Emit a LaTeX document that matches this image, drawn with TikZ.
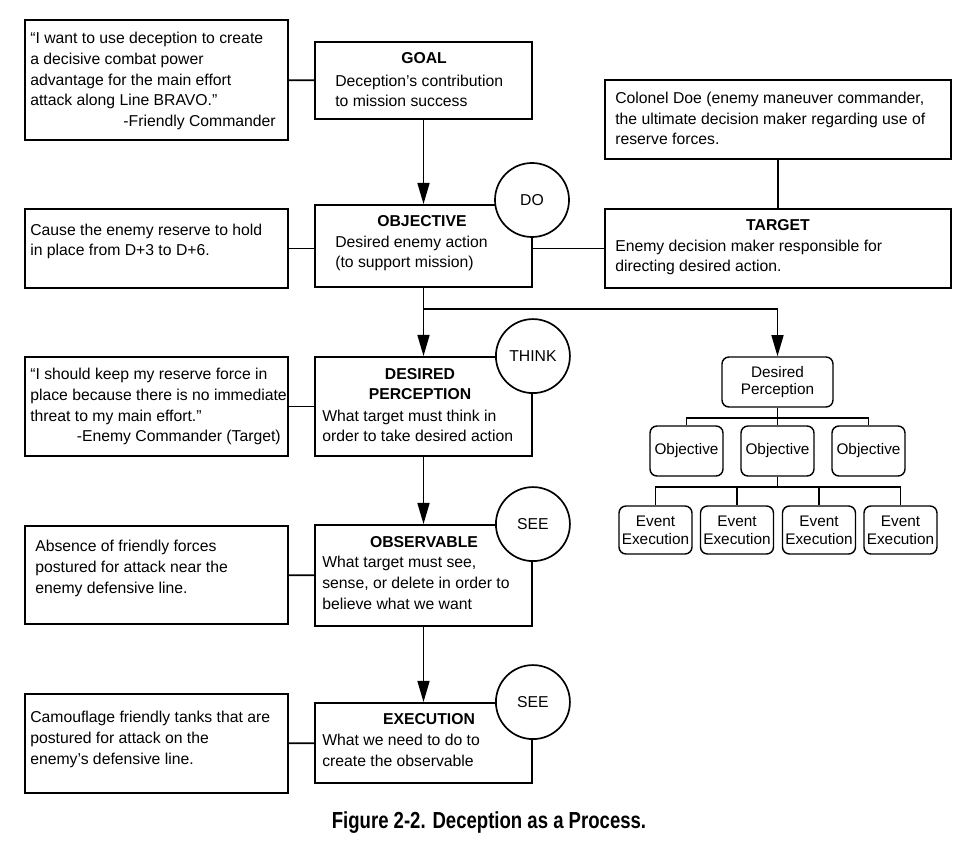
\documentclass[tikz,border=0pt]{standalone}
\usepackage{fontspec}
\setmainfont{Liberation Sans}
\usetikzlibrary{arrows.meta,positioning,fit,calc}

\begin{document}
\begin{tikzpicture}[x=0.025cm, y=-0.025cm,
  font=\fontsize{11.2}{14.9}\selectfont,
  box/.style={draw, line width=1.3pt, inner sep=0pt},
  rbox/.style={draw, line width=1pt, rounded corners=5pt, inner sep=0pt, align=center,
    font=\fontsize{10.9}{12.6}\selectfont},
  txt/.style={anchor=base west, inner sep=0pt, align=left},
  sig/.style={anchor=base east, inner sep=0pt},
  head/.style={anchor=base, inner sep=0pt, align=center, font=\fontsize{11.2}{14.9}\selectfont\bfseries},
  tag/.style={draw, circle, fill=white, line width=1.2pt, minimum size=1.85cm, inner sep=0pt},
  link/.style={line width=1.15pt},
  arr/.style={line width=1.15pt, -{Triangle[length=15pt,width=8.5pt]}}]
  \useasboundingbox (0,0) rectangle (975,846);

  % main column (text nodes sit on the baseline of their last line)
  \node[box, fit={(315,42) (532,119)}] (goal) {};
  \node[box, fit={(315,205) (532,287)}] (obj) {};
  \node[box, fit={(315,357) (532,456)}] (dp) {};
  \node[box, fit={(315,525) (532,626)}] (obs) {};
  \node[box, fit={(315,703) (532,783)}] (exec) {};

  \node[head] (goalh) at (424,64) {GOAL};
  \node[txt] (goalt) at (335,107) {Deception’s contribution\\to mission success};
  \node[head] (objh) at (422,227) {OBJECTIVE};
  \node[txt] (objt) at (335,268) {Desired enemy action\\(to support mission)};
  \node[head] (dph) at (420,400) {DESIRED\\PERCEPTION};
  \node[txt] (dpt) at (322,442) {What target must think in\\order to take desired action};
  \node[head] (obsh) at (424,547) {OBSERVABLE};
  \node[txt] (obst) at (322,609) {What target must see,\\sense, or delete in order to\\believe what we want};
  \node[head] (exech) at (429,724) {EXECUTION};
  \node[txt] (exect) at (322,766) {What we need to do to\\create the observable};

  % example boxes on the left
  \node[box, fit={(25,20) (288,140)}] (q1) {};
  \node[box, fit={(25,209) (288,288)}] (cause) {};
  \node[box, fit={(25,357) (288,456)}] (q2) {};
  \node[box, fit={(25,526) (288,624)}] (absence) {};
  \node[box, fit={(25,694) (288,793)}] (camo) {};

  \node[txt] (q1t) at (30,106) {“I want to use deception to create\\a decisive combat power\\advantage for the main effort\\attack along Line BRAVO.”};
  \node[sig] (q1s) at (276,127) {-Friendly Commander};
  \node[txt] (causet) at (30,256) {Cause the enemy reserve to hold\\in place from D+3 to D+6.};
  \node[txt] (q2t) at (30,421) {“I should keep my reserve force in\\place because there is no immediate\\threat to my main effort.”};
  \node[sig] (q2s) at (281,442) {-Enemy Commander (Target)};
  \node[txt] (absencet) at (35,593) {Absence of friendly forces\\postured for attack near the\\enemy defensive line.};
  \node[txt] (camot) at (30,764) {Camouflage friendly tanks that are\\postured for attack on the\\enemy’s defensive line.};

  % target side
  \node[box, fit={(605,80) (951,159)}] (doe) {};
  \node[box, fit={(605,209) (951,288)}] (target) {};
  \node[txt] (doet) at (615,145) {Colonel Doe (enemy maneuver commander,\\the ultimate decision maker regarding use of\\reserve forces.};
  \node[head] (targeth) at (778,231) {TARGET};
  \node[txt] (targett) at (615,272) {Enemy decision maker responsible for\\directing desired action.};

  % circles
  \node[tag] (do) at (532,200) {DO};
  \node[tag] (think) at (dp.north east) {THINK};
  \node[tag] (see1) at (obs.north east) {SEE};
  \node[tag] (see2) at (exec.north east) {SEE};

  % perception tree
  \node[rbox, minimum width=2.775cm, minimum height=1.25cm] (pdp) at (777.5,382) {Desired\\Perception};
  \node[rbox, minimum width=1.825cm, minimum height=1.25cm] (ob1) at (686.5,451) {Objective};
  \node[rbox, minimum width=1.825cm, minimum height=1.25cm] (ob2) at (777.5,451) {Objective};
  \node[rbox, minimum width=1.825cm, minimum height=1.25cm] (ob3) at (868.5,451) {Objective};
  \node[rbox, minimum width=1.825cm, minimum height=1.2cm] (ev1) at (655.5,530) {Event\\Execution};
  \node[rbox, minimum width=1.825cm, minimum height=1.2cm] (ev2) at (737,530) {Event\\Execution};
  \node[rbox, minimum width=1.825cm, minimum height=1.2cm] (ev3) at (819,530) {Event\\Execution};
  \node[rbox, minimum width=1.825cm, minimum height=1.2cm] (ev4) at (900.5,530) {Event\\Execution};

  % connectors
  \draw[link] (q1) -- (goal);
  \draw[link] (cause.east) -- (cause.east -| obj.west);
  \draw[link] (q2) -- (dp);
  \draw[link] (absence) -- (obs);
  \draw[link] (camo) -- (exec);
  \draw[link] (obj.east |- target.west) -- (target.west);
  \draw[link] (doe) -- (target);
  \draw[arr] (goal) -- (obj);
  \draw[arr] (obj) -- (dp);
  \draw[arr] (dp) -- (obs);
  \draw[arr] (obs) -- (exec);
  \coordinate (split) at ($(obj.south)+(0,21)$);
  \draw[arr] (split) -| (pdp.north);
  \foreach \o in {ob1,ob2,ob3}
    \draw[link] (pdp.south) -- ++(0,10) -| (\o.north);
  \foreach \e in {ev1,ev2,ev3,ev4}
    \draw[link] (ob2.south) -- ++(0,10) -| (\e.north);

  % caption
  \node (cap) at (489,823) {\scalebox{0.8}[1]{\fontsize{16.5}{18}\selectfont\bfseries Figure 2-2. Deception as a Process.}};
\end{tikzpicture}
\end{document}
